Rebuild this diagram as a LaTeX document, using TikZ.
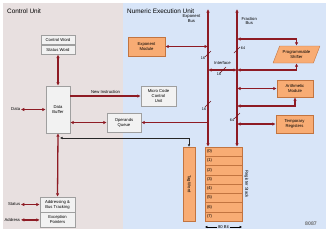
\documentclass[tikz,border=0pt]{standalone}
\usepackage{fontspec}
\setmainfont{Liberation Sans}
\usetikzlibrary{shapes.geometric, arrows.meta, positioning}

\definecolor{cupanel}{HTML}{E8E0E0}
\definecolor{neupanel}{HTML}{D8E5F8}
\definecolor{busred}{HTML}{8E1B24}
\definecolor{modfill}{HTML}{F8AC74}
\definecolor{moddraw}{HTML}{C27440}

\begin{document}
\begin{tikzpicture}[
  x=1pt, y=-1pt,
  unit/.style={rectangle, draw=gray!75, fill=gray!10, font=\fontsize{4.2}{4.9}\selectfont, align=center, inner sep=1pt},
  module/.style={rectangle, draw=moddraw, fill=modfill, font=\fontsize{4.2}{4.9}\selectfont, align=center, inner sep=1pt},
  lbl/.style={font=\fontsize{4.2}{4.9}\selectfont, align=center, inner sep=0.5pt},
  title/.style={anchor=west, font=\fontsize{6.4}{7}\selectfont, inner sep=0pt},
  bus/.style={draw=busred, line width=1.3pt, {Latex[length=3.5pt,width=3.5pt]}-{Latex[length=3.5pt,width=3.5pt]}},
  feed/.style={draw=busred, line width=1.3pt, -{Latex[length=3.5pt,width=3.5pt]}},
  ctrl/.style={draw=black!85, line width=0.6pt, {Latex[length=2.5pt,width=2.5pt]}-{Latex[length=2.5pt,width=2.5pt]}},
  slash/.style={draw=busred!80!black, line width=0.5pt},
  stackrow/.style={module, minimum height=9.25pt, text width=33pt, inner xsep=2pt, align=left}
]
\useasboundingbox (0,0) rectangle (330,234);

% Panels
\fill[cupanel] (3,3) rectangle (123,229);
\fill[neupanel] (123,3) rectangle (326,229);
\node[title] (cutitle) at (7,11) {Control Unit};
\node[title] (neutitle) at (127,11) {Numeric Execution Unit};

% Control unit
\node[unit, minimum width=34pt, minimum height=9.5pt] (cword) at (58,39.75) {Control Word};
\node[unit, minimum width=34pt, minimum height=9.5pt, below=0pt of cword] (sword) {Status Word};
\node[unit, minimum width=24pt, minimum height=47pt] (buffer) at (58,109.5) {Data\\Buffer};
\node[unit, minimum width=35pt, minimum height=20pt] (mcu) at (158.5,96) {Micro Code\\Control\\Unit};
\node[unit, minimum width=34pt, minimum height=19pt] (queue) at (124,122.5) {Operands\\Queue};
\node[unit, minimum width=35pt, minimum height=15pt] (addr) at (57.5,204.5) {Addressing \&\\Bus Tracking};
\node[unit, minimum width=35pt, minimum height=15pt, below=0pt of addr] (except) {Exception\\Pointers};

\node[lbl, left=25pt of buffer] (datain) {Data};
\node[lbl, left=19pt of addr] (statusin) {Status};
\node[lbl, left=19pt of except] (addrin) {Address};

\draw[bus] (sword.south) -- (buffer.north);
\draw[bus] (datain.east) -- (buffer.west);
\draw[feed] (mcu.west -| buffer.east) -- (mcu.west) node[lbl, midway, above=1.5pt] (newinstr) {New Instruction};
\draw[bus] (queue.west -| buffer.east) -- (queue.west);
\draw[bus] (buffer.south) -- (addr.north);
\draw[bus] (statusin.east) -- (addr.west);
\draw[bus] (addrin.east) -- (except.west);

% Numeric execution unit
\node[module, minimum width=37pt, minimum height=19pt] (expmod) at (146.5,46.5) {Exponent\\Module};
\node[module, trapezium, trapezium left angle=60, trapezium right angle=120, trapezium stretches=true,
      minimum width=47pt, minimum height=17pt] (shifter) at (296.5,54.5) {Programmable\\Shifter};
\node[module, minimum width=36pt, minimum height=17pt] (arith) at (295,88.5) {Arithmetic\\Module};
\node[module, minimum width=37pt, minimum height=18pt] (temp) at (294.5,124) {Temporary\\Registers};

% Register stack and tag word
\foreach \i in {0,...,7}
  \node[stackrow] (reg\i) at (223.5,151.625+9.25*\i) {(\i)};
\node[module, minimum width=12pt, minimum height=74pt] (tag) at (189,184) {};
\node[lbl, rotate=-90] (tagtext) at (tag.center) {Tag Word};
\node[lbl, rotate=-90] (stacklbl) at (246.5,184) {Register Stack};
\node[lbl] (bitwidth) at (223.5,227) {80 Bit};
\draw[-{Latex[length=2.5pt,width=2.5pt]}, line width=0.5pt] (bitwidth.west) -- (reg7.south west |- bitwidth.west);
\draw[-{Latex[length=2.5pt,width=2.5pt]}, line width=0.5pt] (bitwidth.east) -- (reg7.south east |- bitwidth.east);

% Buses
\coordinate (ebus) at (208,9);
\coordinate (fbus) at (237,9);
\node[lbl, anchor=east] (ebuslbl) at (201,19) {Exponent\\Bus};
\node[lbl, anchor=west] (fbuslbl) at (241,21) {Fraction\\Bus};
\draw[bus] (ebus) -- (ebus |- reg0.north);
\draw[bus] (fbus) -- (fbus |- reg0.north);

\draw[bus] (expmod.east) -- (expmod.east -| ebus);
\draw[bus] (ebus |- 0,70) -- (fbus |- 0,70) node[lbl, midway, above=4pt] (iface) {Interface};
\draw[bus] (fbus |- 0,39) -| (shifter.north);
\draw[bus] (fbus |- 0,70) -| (shifter.south);
\draw[bus] (arith.west -| fbus) -- (arith.west);
\draw[bus] (fbus |- 0,106) -| (arith.south);
\draw[bus] (temp.west -| fbus) -- (temp.west);
\draw[feed] (queue.east -| ebus) -- (queue.east);

% Bus widths
\foreach \sx/\sy/\lx/\ly/\bits [count=\k] in {208/54/203/58/16, 208/104/204/109/16, 223/70/219/74/16, 237/50/243/48/64, 237/116/232/120/64} {
  \draw[slash] (\sx-3,\sy+3) -- (\sx+3,\sy-3);
  \node[lbl, font=\fontsize{3.8}{4}\selectfont] (bits\k) at (\lx,\ly) {\bits};
}

% Tag word link back to the data buffer
\coordinate (tagjoin) at (60,138);
\draw[ctrl] (tag.north) |- (tagjoin);

\node[font=\bfseries\fontsize{5.2}{6}\selectfont, text=gray!85!black] (chip) at (311,224) {8087};
\end{tikzpicture}
\end{document}
